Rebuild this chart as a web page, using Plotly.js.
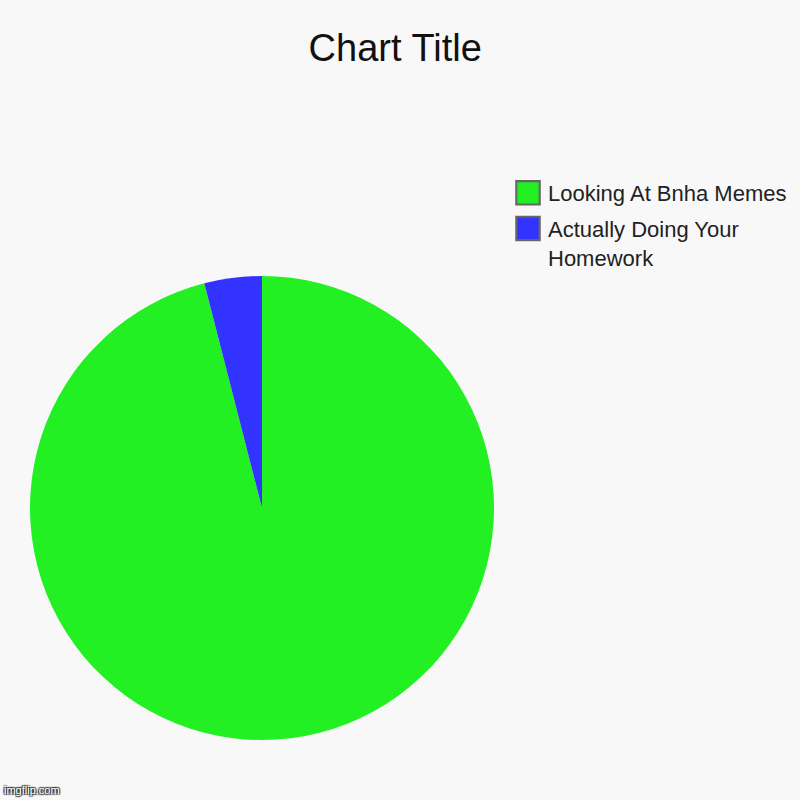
<!DOCTYPE html>
<html>
<head>
<meta charset="utf-8">
<script src="https://cdn.plot.ly/plotly-3.0.1.min.js"></script>
<style>
  html, body { margin: 0; padding: 0; background: #f8f8f8; }
  #chart { width: 800px; height: 800px; }
</style>
</head>
<body>
<div id="chart"></div>
<script>
const slice_labels = ["Looking At Bnha Memes", "Actually Doing Your<br>Homework"];
const slice_values = [96, 4];
const slice_colors = ["#22f022", "#3333ff"];

const font_family = "Liberation Sans, Arial, sans-serif";

function pie_init()
{
    const chart_div = document.getElementById("chart");
    const pie_trace = {
        type: "pie",
        labels: slice_labels,
        values: slice_values,
        sort: false,
        direction: "clockwise",
        rotation: 0,
        textinfo: "none",
        hoverinfo: "label+percent",
        marker: {colors: slice_colors, line: {color: "#666666", width: 0}},
        domain: {x: [0.0375, 0.6175], y: [0.075, 0.655]}
    };
    const layout = {
        width: 800,
        height: 800,
        margin: {l: 0, r: 0, t: 0, b: 0},
        paper_bgcolor: "#f8f8f8",
        plot_bgcolor: "#f8f8f8",
        font: {family: font_family, color: "#222222"},
        title: {text: "Chart Title", font: {size: 38, color: "#111111"}, x: 0.494, xanchor: "center", y: 0.94, yanchor: "middle"},
        showlegend: true,
        legend: {
            x: 0.635, xanchor: "left", y: 0.785, yanchor: "top",
            valign: "top",
            font: {size: 22, color: "#222222"},
            bgcolor: "rgba(0,0,0,0)"
        },
        annotations: [{
            text: "imgflip.com", xref: "paper", yref: "paper", x: 0.003, y: 0.002,
            xanchor: "left", yanchor: "bottom", showarrow: false,
            font: {size: 11, color: "#ffffff", family: font_family,
                   shadow: "1px 1px 1px #333, -1px -1px 1px #333, 1px -1px 1px #333, -1px 1px 1px #333"}
        }]
    };
    Plotly.newPlot(chart_div, [pie_trace], layout, {displayModeBar: false}).then(() => {
        /* enlarge legend boxes and give them the grey outline */
        chart_div.querySelectorAll("path.legendpie").forEach((p) => {
            const t = p.getAttribute("transform") || "";
            p.setAttribute("transform", t + " scale(1.95)");
            p.style.stroke = "#666666";
            p.style.strokeWidth = "1.1px";
        });
        /* a bit more room between legend entries */
        chart_div.querySelectorAll(".legend g.traces").forEach((g, i) => {
            const t = g.getAttribute("transform") || "";
            g.setAttribute("transform", t + " translate(0," + (i * 4) + ")");
        });
        chart_div.querySelectorAll(".legend .scrollbox").forEach((g) => g.removeAttribute("clip-path"));
    });
}

pie_init();
</script>
</body>
</html>
